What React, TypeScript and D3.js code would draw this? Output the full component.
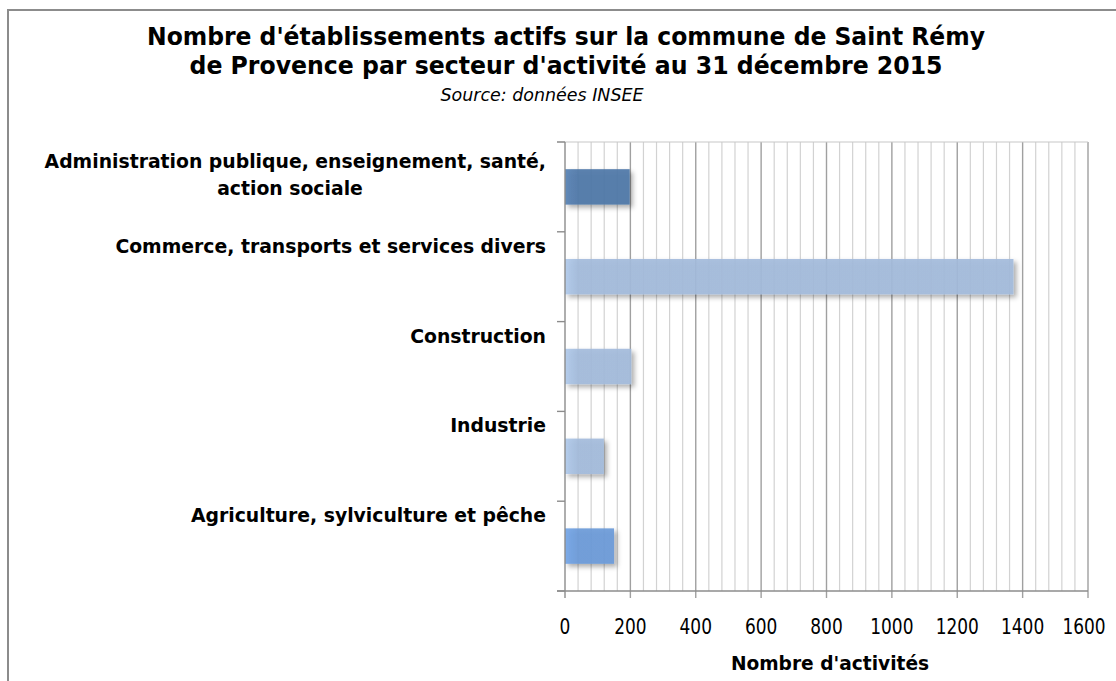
import React, { useEffect, useRef } from "react"
import * as d3 from "d3"

const categories = [
  "Administration publique, enseignement, santé, action sociale",
  "Commerce, transports et services divers",
  "Construction",
  "Industrie",
  "Agriculture, sylviculture et pêche",
]
const labelLines = [
  ["Administration publique, enseignement, santé,", "action sociale"],
  ["Commerce, transports et services divers"],
  ["Construction"],
  ["Industrie"],
  ["Agriculture, sylviculture et pêche"],
]
const values = [198, 1372, 203, 119, 150]
const barColors = ["#4f78a8", "#a3bbdb", "#a3bbdb", "#a3bbdb", "#6b9ad8"]
const xTicks = [0, 200, 400, 600, 800, 1000, 1200, 1400, 1600]
const titleLines = [
  "Nombre d'établissements actifs sur la commune de Saint Rémy",
  "de Provence par secteur d'activité au 31 décembre 2015",
]
const subtitle = "Source: données INSEE"
const xTitle = "Nombre d'activités"

const W = 1116
const H = 681
const plot = { left: 565, right: 1088, top: 142, bottom: 591 }
const FONT = "'DejaVu Sans', Tahoma, sans-serif"

// squeeze text horizontally like the narrow Tahoma in the original
function condense(sel: any, k: number) {
  sel.each(function (this: SVGTextElement) {
    const w = this.getComputedTextLength()
    d3.select(this).attr("textLength", w * k).attr("lengthAdjust", "spacingAndGlyphs")
  })
}

export default function App() {
  const ref = useRef<SVGSVGElement>(null)

  useEffect(() => {
    const svg = d3.select(ref.current)
    svg.selectAll("*").remove()

    const defs = svg.append("defs")
    const f = defs
      .append("filter")
      .attr("id", "shadow")
      .attr("x", "-10%")
      .attr("y", "-30%")
      .attr("width", "130%")
      .attr("height", "170%")
    f.append("feDropShadow")
      .attr("dx", 3)
      .attr("dy", 3)
      .attr("stdDeviation", 2.5)
      .attr("flood-color", "#000")
      .attr("flood-opacity", 0.35)

    const x = d3.scaleLinear().domain([0, 1600]).range([plot.left, plot.right])
    const y = d3
      .scaleBand()
      .domain(categories)
      .range([plot.top, plot.bottom])
      .paddingInner(0.605)
      .paddingOuter(0.3025)

    barColors.forEach((c, i) => {
      const g = defs
        .append("linearGradient")
        .attr("id", "grad" + i)
        .attr("gradientUnits", "userSpaceOnUse")
        .attr("x1", x(0))
        .attr("x2", x(40))
        .attr("y1", 0)
        .attr("y2", 0)
      g.append("stop").attr("offset", 0).attr("stop-color", d3.color(c)!.brighter(0.2).formatHex())
      g.append("stop").attr("offset", 1).attr("stop-color", c)
    })

    // chart frame
    svg
      .append("rect")
      .attr("x", 8)
      .attr("y", 10)
      .attr("width", W + 20)
      .attr("height", H + 20)
      .attr("fill", "#fff")
      .attr("stroke", "#8c8c8c")
      .attr("stroke-width", 2)

    // grid
    const minor = d3.range(40, 1601, 40).filter(v => v % 200 !== 0)
    svg
      .append("g")
      .selectAll("line")
      .data(minor)
      .enter()
      .append("line")
      .attr("x1", d => x(d))
      .attr("x2", d => x(d))
      .attr("y1", plot.top)
      .attr("y2", plot.bottom)
      .attr("stroke", "#d2d2d2")
      .attr("stroke-width", 1.2)
    svg
      .append("g")
      .selectAll("line")
      .data(xTicks.slice(1))
      .enter()
      .append("line")
      .attr("x1", d => x(d))
      .attr("x2", d => x(d))
      .attr("y1", plot.top)
      .attr("y2", plot.bottom + 7)
      .attr("stroke", "#a0a0a0")
      .attr("stroke-width", 1.4)

    svg
      .append("line")
      .attr("x1", plot.left - 8)
      .attr("x2", plot.right)
      .attr("y1", plot.top)
      .attr("y2", plot.top)
      .attr("stroke", "#c8c8c8")
      .attr("stroke-width", 1.2)

    // bars
    svg
      .append("g")
      .selectAll("rect")
      .data(values)
      .enter()
      .append("rect")
      .attr("x", x(0))
      .attr("y", (d, i) => y(categories[i])!)
      .attr("width", d => x(d) - x(0))
      .attr("height", y.bandwidth())
      .attr("fill", (d, i) => "url(#grad" + i + ")")
      .attr("fill-opacity", 0.92)
      .attr("filter", "url(#shadow)")

    // axes
    const step = y.step()
    const bounds = d3.range(0, categories.length + 1).map(i => plot.top + i * step)
    svg
      .append("g")
      .selectAll("line")
      .data(bounds)
      .enter()
      .append("line")
      .attr("x1", plot.left - 8)
      .attr("x2", plot.left)
      .attr("y1", d => d)
      .attr("y2", d => d)
      .attr("stroke", "#8c8c8c")
      .attr("stroke-width", 1.4)
    svg
      .append("line")
      .attr("x1", plot.left)
      .attr("x2", plot.left)
      .attr("y1", plot.top)
      .attr("y2", plot.bottom + 7)
      .attr("stroke", "#8c8c8c")
      .attr("stroke-width", 1.4)
    svg
      .append("line")
      .attr("x1", plot.left - 8)
      .attr("x2", plot.right)
      .attr("y1", plot.bottom)
      .attr("y2", plot.bottom)
      .attr("stroke", "#8c8c8c")
      .attr("stroke-width", 1.4)

    const ticks = svg
      .append("g")
      .selectAll("text")
      .data(xTicks)
      .enter()
      .append("text")
      .attr("x", (d, i) => (i === xTicks.length - 1 ? x(d) - 4 : x(d)))
      .attr("y", 634)
      .attr("text-anchor", "middle")
      .attr("font-family", FONT)
      .attr("font-size", 21.5)
      .attr("fill", "#000")
      .text(d => d)
    condense(ticks, 0.79)

    // category labels
    svg
      .append("g")
      .selectAll("g")
      .data(categories)
      .enter()
      .append("g")
      .each(function (c, i) {
        const lines = labelLines[i]
        const cy = y(c)! + y.bandwidth() / 2
        const g = d3.select(this)
        const ys = lines.length === 1 ? [cy - 24] : [cy - 19, cy + 8]
        lines.forEach((s, j) => {
          const t = g
            .append("text")
            .attr("x", j === 0 ? 546 : 290)
            .attr("y", ys[j])
            .attr("text-anchor", j === 0 ? "end" : "middle")
            .attr("font-family", FONT)
            .attr("font-weight", "bold")
            .attr("font-size", 20)
            .attr("fill", "#000")
            .text(s)
          condense(t, 0.94)
        })
      })

    // titles
    const titleWidths = [838, 753]
    titleLines.forEach((s, i) => {
      svg
        .append("text")
        .attr("x", 566)
        .attr("y", 45 + i * 28.5)
        .attr("text-anchor", "middle")
        .attr("font-family", FONT)
        .attr("font-weight", "bold")
        .attr("font-size", 24)
        .attr("fill", "#000")
        .attr("textLength", titleWidths[i])
        .attr("lengthAdjust", "spacingAndGlyphs")
        .text(s)
    })
    const sub = svg
      .append("text")
      .attr("x", 542)
      .attr("y", 101)
      .attr("text-anchor", "middle")
      .attr("font-family", FONT)
      .attr("font-style", "italic")
      .attr("font-size", 18)
      .attr("fill", "#000")
      .text(subtitle)
    condense(sub, 0.97)

    const xt = svg
      .append("text")
      .attr("x", 830)
      .attr("y", 670)
      .attr("text-anchor", "middle")
      .attr("font-family", FONT)
      .attr("font-weight", "bold")
      .attr("font-size", 20)
      .attr("fill", "#000")
      .text(xTitle)
    condense(xt, 0.93)
  }, [])

  return (
    <svg
      ref={ref}
      width={W}
      height={H}
      style={{ position: "absolute", left: 0, top: 0, background: "#fff" }}
    />
  )
}
